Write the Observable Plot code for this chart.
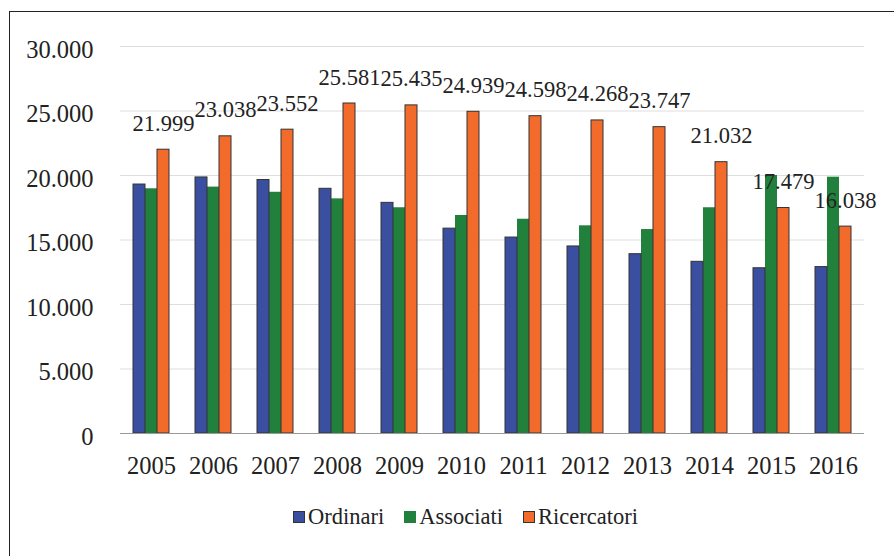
<!DOCTYPE html>
<html>
<head>
<meta charset="utf-8">
<script src="https://cdn.jsdelivr.net/npm/d3@7"></script>
<script src="https://cdn.jsdelivr.net/npm/@observablehq/plot@0.6"></script>
<style>
  html, body { margin: 0; padding: 0; background: #fff; }
  #wrap { position: relative; width: 894px; height: 556px; overflow: hidden; }
  #frame { position: absolute; left: 9px; top: 11px; width: 1000px; height: 700px;
           border-left: 1.5px solid #222; border-top: 1.5px solid #222; }
  #chart { position: absolute; left: 0; top: 0; }
  #legend { position: absolute; left: 293px; top: 504px; display: flex; align-items: center;
            font-family: "Liberation Serif", "DejaVu Serif", serif; font-size: 22.5px; color: #222; }
  .item { display: flex; align-items: center; margin-right: 20px; }
  .sw { width: 10px; height: 10px; margin-right: 3px; box-sizing: content-box; }
</style>
</head>
<body>
<div id="wrap">
  <div id="frame"></div>
  <div id="chart"></div>
  <div id="legend"></div>
</div>
<script>
const years = ["2005","2006","2007","2008","2009","2010","2011","2012","2013","2014","2015","2016"];
const seriesNames = ["Ordinari", "Associati", "Ricercatori"];
const ordinari    = [19300, 19850, 19650, 18970, 17880, 15880, 15190, 14500, 13900, 13310, 12810, 12900];
const associati   = [18970, 19100, 18700, 18190, 17500, 16900, 16610, 16100, 15810, 17500, 20000, 19870];
const ricercatori = [21999, 23038, 23552, 25581, 25435, 24939, 24598, 24268, 23747, 21032, 17479, 16038];
const yTicks = [0, 5000, 10000, 15000, 20000, 25000, 30000];
const colors = ["#3a4f9f", "#21803b", "#f26b2b"];

const fmt = d => d3.format(",")(d).replace(/,/g, ".");
const seriesValues = [ordinari, associati, ricercatori];
const table = [];
years.forEach((y, i) => {
  seriesNames.forEach((s, j) => table.push({year: y, series: s, value: seriesValues[j][i]}));
});

const chart = Plot.plot({
  width: 894,
  height: 495,
  marginLeft: 115,
  marginRight: 26,
  marginTop: 46,
  marginBottom: 62,
  facet: {data: table, x: "year"},
  fx: {domain: years, padding: 0, axis: "bottom", tickSize: 0, tickPadding: 23, label: null},
  x: {domain: seriesNames, axis: null, paddingInner: 0, paddingOuter: 0.913},
  y: {domain: [0, 30000], ticks: yTicks, tickFormat: fmt, tickSize: 0, tickPadding: 27, label: null},
  color: {domain: seriesNames, range: colors},
  style: {fontFamily: "'Liberation Serif', 'DejaVu Serif', serif", fontSize: "24.5px", color: "#222", background: "transparent", overflow: "visible"},
  marks: [
    Plot.ruleY(yTicks.filter(t => t > 0), {stroke: "#dedede", strokeWidth: 1}),
    Plot.barY(table, {x: "series", y: "value", fill: "series"}),
    Plot.barY(table, {filter: d => d.series !== "Associati", x: "series", y: "value", fill: "none", stroke: "#333", strokeWidth: 1}),
    Plot.ruleY([0], {stroke: "#9a9a9a", strokeWidth: 1}),
    Plot.text(table, {filter: d => d.series === "Ricercatori", x: "series", y: "value", text: d => fmt(d.value),
      lineAnchor: "bottom", dy: -19, fontSize: 22.5, fill: "#222"})
  ]
});
chart.querySelectorAll('g[aria-label^="y-axis"]').forEach(g => {
  if (g.querySelector("text")) {
    const t = g.getAttribute("transform") || "";
    g.setAttribute("transform", (t + " translate(0,3.5)").trim());
  }
});
document.getElementById("chart").appendChild(chart);

const legend = document.getElementById("legend");
seriesNames.forEach((s, i) => {
  const item = document.createElement("div");
  item.className = "item";
  const sw = document.createElement("span");
  sw.className = "sw";
  sw.style.background = colors[i];
  sw.style.border = i === 1 ? "1px solid " + colors[i] : "1px solid #333";
  const lab = document.createElement("span");
  lab.textContent = s;
  item.appendChild(sw);
  item.appendChild(lab);
  legend.appendChild(item);
});
</script>
</body>
</html>
